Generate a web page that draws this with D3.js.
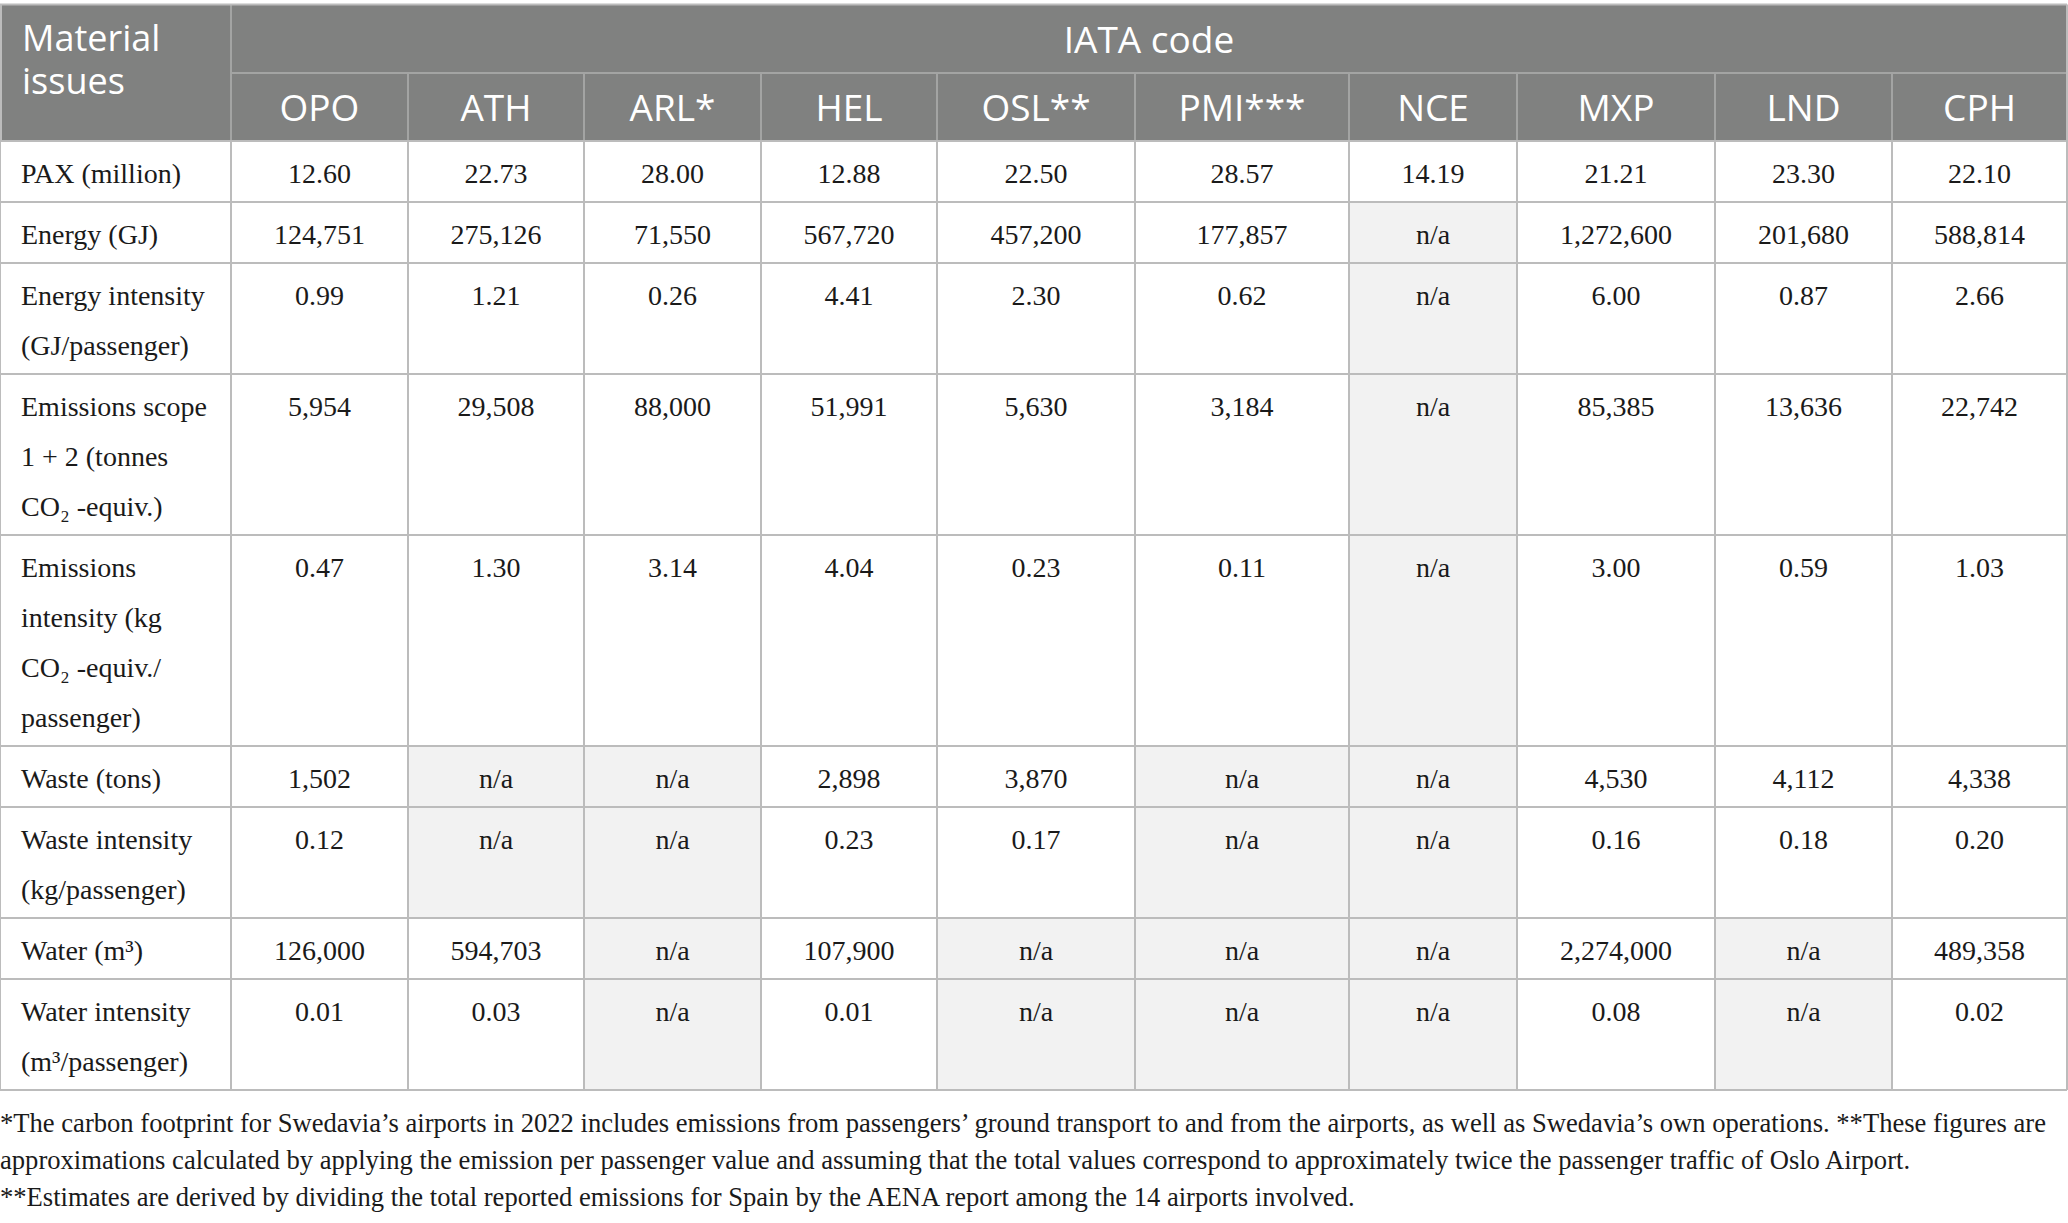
<!DOCTYPE html>
<html>
<head>
<meta charset="utf-8">
<script src="https://cdn.jsdelivr.net/npm/d3@7"></script>
<style>
  body { margin: 0; background: #fff; }
  svg { display: block; }
</style>
</head>
<body>
<div id="chart"></div>
<script>
// table contents
var airports = ["OPO", "ATH", "ARL*", "HEL", "OSL**", "PMI***", "NCE", "MXP", "LND", "CPH"];
var issueLabels = [
	["PAX (million)"],
	["Energy (GJ)"],
	["Energy intensity", "(GJ/passenger)"],
	["Emissions scope", "1 + 2 (tonnes", "CO₂ -equiv.)"],
	["Emissions", "intensity (kg", "CO₂ -equiv./", "passenger)"],
	["Waste (tons)"],
	["Waste intensity", "(kg/passenger)"],
	["Water (m³)"],
	["Water intensity", "(m³/passenger)"]
];
var pax = ["12.60", "22.73", "28.00", "12.88", "22.50", "28.57", "14.19", "21.21", "23.30", "22.10"];
var energy = ["124,751", "275,126", "71,550", "567,720", "457,200", "177,857", "n/a", "1,272,600", "201,680", "588,814"];
var energyIntensity = ["0.99", "1.21", "0.26", "4.41", "2.30", "0.62", "n/a", "6.00", "0.87", "2.66"];
var emissions = ["5,954", "29,508", "88,000", "51,991", "5,630", "3,184", "n/a", "85,385", "13,636", "22,742"];
var emissionsIntensity = ["0.47", "1.30", "3.14", "4.04", "0.23", "0.11", "n/a", "3.00", "0.59", "1.03"];
var waste = ["1,502", "n/a", "n/a", "2,898", "3,870", "n/a", "n/a", "4,530", "4,112", "4,338"];
var wasteIntensity = ["0.12", "n/a", "n/a", "0.23", "0.17", "n/a", "n/a", "0.16", "0.18", "0.20"];
var water = ["126,000", "594,703", "n/a", "107,900", "n/a", "n/a", "n/a", "2,274,000", "n/a", "489,358"];
var waterIntensity = ["0.01", "0.03", "n/a", "0.01", "n/a", "n/a", "n/a", "0.08", "n/a", "0.02"];
var footnotes = [
	"*The carbon footprint for Swedavia’s airports in 2022 includes emissions from passengers’ ground transport to and from the airports, as well as Swedavia’s own operations. **These figures are",
	"approximations calculated by applying the emission per passenger value and assuming that the total values correspond to approximately twice the passenger traffic of Oslo Airport.",
	"**Estimates are derived by dividing the total reported emissions for Spain by the AENA report among the 14 airports involved."
];

var rowValues = [pax, energy, energyIntensity, emissions, emissionsIntensity, waste, wasteIntensity, water, waterIntensity];

// layout
var width = 2068, height = 1223;
var colEdges = [0, 231, 408, 584, 761, 937, 1135, 1349, 1517, 1715, 1892, 2067];
var tableTop = 4.5, headRow1 = 73, headBottom = 141;
var lineH = 50, rowPad = 11, firstBase = 42;

var colKeys = ["label"].concat(airports);
var xLeft = d3.scaleOrdinal().domain(colKeys).range(colEdges.slice(0, -1));
var xRight = d3.scaleOrdinal().domain(colKeys).range(colEdges.slice(1));
var xMid = function(k) { return (xLeft(k) + xRight(k)) / 2; };

var rows = issueLabels.map(function(lines, i) {
	return { lines: lines, values: rowValues[i], h: lines.length * lineH + rowPad };
});
// cumsum gives a typed array, so turn it into a plain one before concat
var tops = [headBottom].concat(Array.from(d3.cumsum(rows, function(d) { return d.h; }), function(v) { return v + headBottom; }));
rows.forEach(function(r, i) { r.y0 = tops[i]; r.y1 = tops[i + 1]; });
var tableBottom = tops[tops.length - 1];

var serif = "'Liberation Serif', 'Times New Roman', serif";
var sans = "'Open Sans', 'Noto Sans', sans-serif";
var headFill = "#808180", headLine = "#a3a4a3", gridLine = "#bcbcbc", naFill = "#f2f2f2", ink = "#1a1a1a";

var svg = d3.select("#chart").append("svg")
	.attr("width", width)
	.attr("height", height);

// header block
svg.append("rect")
	.attr("x", 0).attr("y", tableTop)
	.attr("width", colEdges[colEdges.length - 1]).attr("height", headBottom - tableTop)
	.attr("fill", headFill);

// cell backgrounds (n/a shaded)
var body = svg.append("g").attr("class", "body");
rows.forEach(function(r) {
	body.selectAll(null).data(r.values).enter().append("rect")
		.attr("x", function(d, j) { return xLeft(airports[j]); })
		.attr("y", r.y0)
		.attr("width", function(d, j) { return xRight(airports[j]) - xLeft(airports[j]); })
		.attr("height", r.h)
		.attr("fill", function(d) { return d === "n/a" ? naFill : "#fff"; });
});

// header lines
var hl = svg.append("g").attr("stroke", headLine).attr("stroke-width", 2);
hl.append("line").attr("x1", colEdges[1]).attr("x2", colEdges[colEdges.length - 1]).attr("y1", headRow1).attr("y2", headRow1);
hl.selectAll(null).data(airports.slice(1)).enter().append("line")
	.attr("x1", xLeft).attr("x2", xLeft).attr("y1", headRow1).attr("y2", headBottom);
hl.append("line").attr("x1", colEdges[1]).attr("x2", colEdges[1]).attr("y1", tableTop).attr("y2", headBottom);

// body grid
var gl = svg.append("g").attr("stroke", gridLine).attr("stroke-width", 2);
gl.selectAll(null).data(tops).enter().append("line")
	.attr("x1", 0).attr("x2", colEdges[colEdges.length - 1])
	.attr("y1", function(d) { return d; }).attr("y2", function(d) { return d; });
gl.selectAll(null).data(colEdges).enter().append("line")
	.attr("x1", function(d) { return d; }).attr("x2", function(d) { return d; })
	.attr("y1", headBottom).attr("y2", tableBottom);
gl.append("line").attr("x1", 0).attr("x2", colEdges[colEdges.length - 1]).attr("y1", tableTop).attr("y2", tableTop);
gl.append("line").attr("x1", 1).attr("x2", 1).attr("y1", tableTop).attr("y2", headBottom);
gl.append("line").attr("x1", colEdges[colEdges.length - 1]).attr("x2", colEdges[colEdges.length - 1]).attr("y1", tableTop).attr("y2", headBottom);

// header text
var ht = svg.append("g").attr("fill", "#fff").style("font-family", sans).style("font-size", "37px");
ht.append("text").attr("x", 22).attr("y", 51).style("font-size", "36px").text("Material");
ht.append("text").attr("x", 22).attr("y", 94).style("font-size", "36px").text("issues");
ht.append("text").attr("x", (colEdges[1] + colEdges[colEdges.length - 1]) / 2).attr("y", 53)
	.attr("text-anchor", "middle").text("IATA code");
ht.selectAll(null).data(airports).enter().append("text")
	.attr("x", xMid).attr("y", 121)
	.attr("text-anchor", "middle")
	.text(function(d) { return d; });

// body text
var bt = svg.append("g").attr("fill", ink).style("font-family", serif).style("font-size", "28px");
rows.forEach(function(r) {
	bt.selectAll(null).data(r.lines).enter().append("text")
		.attr("x", 21)
		.attr("y", function(d, i) { return r.y0 + firstBase + i * lineH; })
		.text(function(d) { return d; });
	bt.selectAll(null).data(r.values).enter().append("text")
		.attr("x", function(d, j) { return xMid(airports[j]); })
		.attr("y", r.y0 + firstBase)
		.attr("text-anchor", "middle")
		.text(function(d) { return d; });
});

// footnotes
svg.append("g").attr("fill", ink).style("font-family", serif).style("font-size", "26.6px")
	.selectAll("text").data(footnotes).enter().append("text")
	.attr("x", 0)
	.attr("y", function(d, i) { return 1132 + i * 37; })
	.text(function(d) { return d; });
</script>
</body>
</html>
